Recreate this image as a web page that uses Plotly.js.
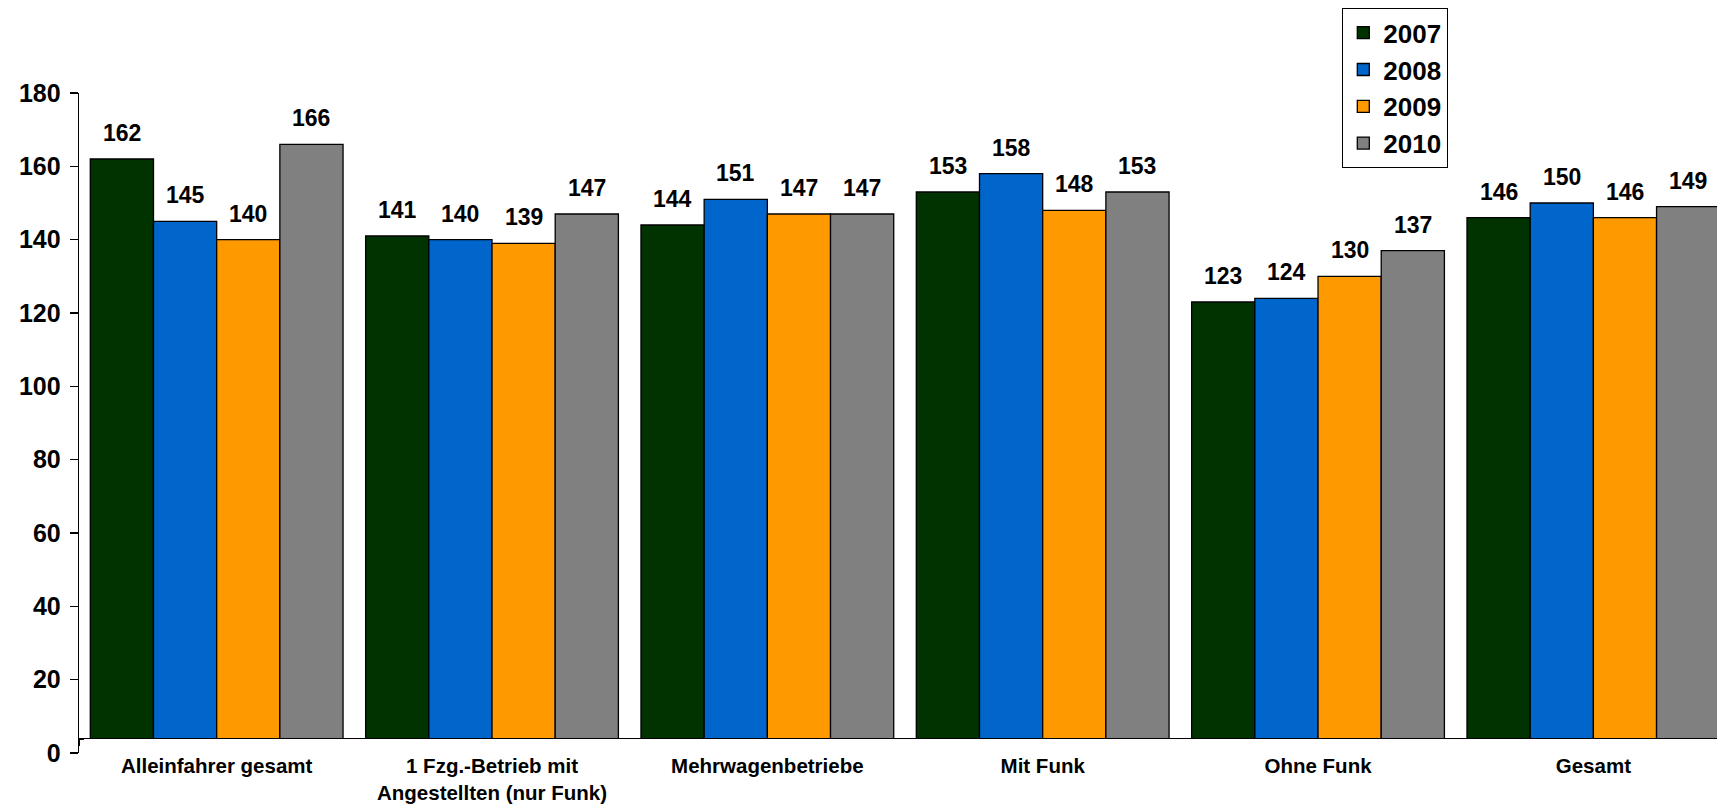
<!DOCTYPE html>
<html>
<head>
<meta charset="utf-8">
<script src="https://cdn.plot.ly/plotly-3.0.1.min.js"></script>
<style>
  html, body { margin: 0; padding: 0; background: #ffffff; }
  #chart { width: 1717px; height: 806px; }
</style>
</head>
<body>
<div id="chart"></div>
<script>
// ---- data ----
const categories = [
  "Alleinfahrer gesamt",
  "1 Fzg.-Betrieb mit<br>Angestellten (nur Funk)",
  "Mehrwagenbetriebe",
  "Mit Funk",
  "Ohne Funk",
  "Gesamt"
];
const seriesNames = ["2007", "2008", "2009", "2010"];
const values2007 = [162, 141, 144, 153, 123, 146];
const values2008 = [145, 140, 151, 158, 124, 150];
const values2009 = [140, 139, 147, 148, 130, 146];
const values2010 = [166, 147, 147, 153, 137, 149];
const yTickValues = [0, 20, 40, 60, 80, 100, 120, 140, 160, 180];

// ---- styling ----
const colors = ["#003300", "#0066CC", "#FF9900", "#808080"];
const allValues = [values2007, values2008, values2009, values2010];
const FONT = "Liberation Sans, Arial, sans-serif";

const marginL = 79, marginR = 0, marginT = 93, marginB = 53;
const plotW = 1717 - marginL - marginR;
const xRange = [-0.5, 5.449];
const bargap = 0.082;
const unitPx = plotW / (xRange[1] - xRange[0]);
const barPx = unitPx * (1 - bargap) / seriesNames.length;
const axisCross = 4;   // value at which the category axis line sits

const traces = seriesNames.map((name, i) => ({
  type: "bar",
  name: name,
  x: categories,
  y: allValues[i],
  legendgroup: "g" + i,
  marker: { color: colors[i], line: { color: "#000000", width: 1.3 } },
  hoverinfo: "x+y+name"
}));

const annotations = [];
seriesNames.forEach((name, i) => {
  allValues[i].forEach((v, k) => {
    annotations.push({
      x: categories[k], y: v, xref: "x", yref: "y",
      text: String(v), showarrow: false,
      xanchor: "center", yanchor: "bottom",
      xshift: (i - (seriesNames.length - 1) / 2) * barPx,
      yshift: 11,
      font: { family: FONT, size: 23, color: "#000000", weight: "bold" }
    });
  });
});

const layout = {
  width: 1717, height: 806,
  margin: { l: marginL, r: marginR, t: marginT, b: marginB, pad: 0 },
  paper_bgcolor: "#ffffff",
  plot_bgcolor: "#ffffff",
  barmode: "group",
  bargap: bargap,
  bargroupgap: 0,
  showlegend: true,
  legend: {
    x: (1342 - marginL) / plotW, xanchor: "left",
    y: 1 + (marginT - 8) / (806 - marginT - marginB), yanchor: "top",
    bgcolor: "#ffffff", bordercolor: "#000000", borderwidth: 1.3,
    font: { family: FONT, size: 26, color: "#000000", weight: "bold" },
    traceorder: "normal",
    tracegroupgap: 7
  },
  xaxis: {
    type: "category",
    range: xRange,
    anchor: "free",
    position: axisCross / 180,
    showline: true, linecolor: "#000000", linewidth: 1.3,
    ticks: "outside", tickson: "boundaries", ticklen: 6, tickcolor: "#000000", tickwidth: 1.3,
    ticklabelstandoff: 9,
    tickfont: { family: FONT, size: 20.5, color: "#000000", weight: "bold" },
    showgrid: false, zeroline: false, fixedrange: true
  },
  yaxis: {
    range: [0, 180],
    tickvals: yTickValues,
    ticktext: yTickValues.map(String),
    showline: true, linecolor: "#000000", linewidth: 1.3,
    ticks: "outside", ticklen: 8, tickcolor: "#000000", tickwidth: 1.3,
    ticklabelstandoff: 4,
    tickfont: { family: FONT, size: 25, color: "#000000", weight: "bold" },
    showgrid: false, zeroline: false, fixedrange: true
  },
  shapes: [{
    type: "rect", layer: "above",
    xref: "paper", yref: "y",
    x0: 0.003, x1: 1, y0: -1, y1: axisCross - 0.15,
    fillcolor: "#ffffff", line: { width: 0 }
  }],
  annotations: annotations
};

Plotly.newPlot("chart", traces, layout, { displayModeBar: false, staticPlot: true });
</script>
</body>
</html>
